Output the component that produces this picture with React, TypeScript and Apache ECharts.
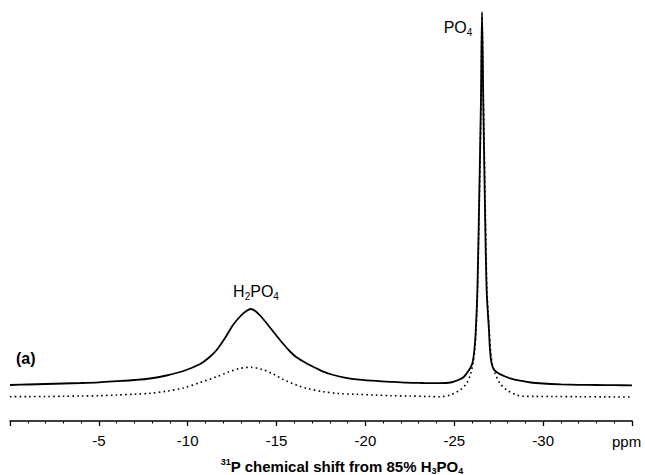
import React, { useEffect, useRef } from "react";
import * as echarts from "echarts";

// x axis tick values (ppm), 0 on the left, -35 on the right
const xTicks = [0, -5, -10, -15, -20, -25, -30, -35];
const unitLabel = "ppm";

// solid trace (a): chemical shift (ppm) and intensity (arbitrary units)
const solidPpm = [
  0, -1, -2, -3, -4, -5, -6, -7, -7.88, -8.8, -9.76, -10.7, -11.2, -11.63, -12.1, -12.57,
  -13.0, -13.3, -13.55, -13.8, -14.1, -14.45, -14.9, -15.38, -15.76, -16.1, -16.7, -17.26,
  -17.63, -18.2, -18.76, -19.5, -20.44, -21.4, -22.32, -23.2, -24.2, -24.8, -25.23, -25.5,
  -25.7, -25.9, -26.02, -26.13, -26.21, -26.3, -26.4, -26.5, -26.56, -26.63, -26.72, -26.82,
  -26.95, -27.01, -27.1, -27.25, -27.48, -27.8, -28.14, -28.7, -29.3, -30, -31, -32, -33,
  -34, -35,
];
const solidInt = [
  36, 36.5, 37, 37.5, 38, 38.7, 39.8, 41, 42.5, 45.5, 50, 57, 63.5, 71, 83, 96.5,
  105.5, 110, 112, 110, 105, 97.5, 87.5, 77, 69.5, 64, 57.5, 52.5,
  49.3, 46, 43.7, 41.7, 40.3, 39.2, 38.3, 38, 37.8, 38.5, 41, 43.5,
  47.7, 53, 57.7, 71, 91, 131, 220, 321, 409, 321, 220, 131,
  91, 71, 57.7, 51, 47.7, 45, 42.7, 40.3, 38.5, 37.5, 36.7, 36.2, 36,
  35.8, 35.7,
];

// dotted trace
const dottedPpm = [
  0, -1, -2, -3, -4, -5.06, -6, -7, -7.88, -8.8, -9.76, -10.7, -11.63, -12.3, -12.9, -13.55,
  -14.2, -14.8, -15.38, -15.76, -16.2, -16.7, -17.63, -18.5, -19.5, -20.5, -21.4, -22.5,
  -23.5, -24.2, -24.76, -25.32, -25.7, -25.93, -26.05, -26.15, -26.23, -26.31, -26.41, -26.51,
  -26.56, -26.64, -26.74, -26.84, -26.97, -27.04, -27.13, -27.29, -27.57, -27.95, -28.51,
  -28.9, -29.5, -30.5, -32, -33.5, -35,
];
const dottedInt = [
  24.3, 24.4, 24.5, 24.7, 25, 25.3, 26, 26.8, 27.7, 29.8, 33, 38.5, 44.3, 49, 52.5, 53.7,
  51.5, 47, 41.5, 38.5, 35.5, 32.7, 29.3, 27.5, 26.7, 26, 25.3, 25,
  24.5, 24.3, 26, 31, 37.7, 47.7, 57.7, 71, 91, 131, 220, 321,
  405, 321, 220, 131, 91, 71, 57.7, 47.7, 37.7, 31, 26,
  24.8, 24.6, 24.5, 24.3, 24.1, 24,
];

const FONT = "'Liberation Sans', Arial, Helvetica, sans-serif";

export default function App() {
  const ref = useRef<HTMLDivElement>(null);

  useEffect(() => {
    if (!ref.current) return;
    const chart = echarts.init(ref.current, null, { renderer: "svg" });
    const solid = solidPpm.map((x, i) => [x, solidInt[i]]);
    const dotted = dottedPpm.map((x, i) => [x, dottedInt[i]]);

    chart.setOption({
      animation: false,
      backgroundColor: "#ffffff",
      grid: { left: 10, right: 13, top: 10, bottom: 54 },
      xAxis: {
        type: "value",
        inverse: true,
        min: xTicks[xTicks.length - 1],
        max: xTicks[0],
        interval: 5,
        splitLine: { show: false },
        axisLine: { show: true, onZero: false, lineStyle: { color: "#000", width: 1.6 } },
        axisTick: { show: true, length: 5, lineStyle: { color: "#000", width: 1.3 } },
        minorTick: { show: true, splitNumber: 5, length: 2.5, lineStyle: { color: "#000", width: 1 } },
        axisLabel: {
          color: "#000",
          fontSize: 15,
          fontFamily: FONT,
          margin: 12,
          formatter: (v: number) => (v === xTicks[0] || v === xTicks[xTicks.length - 1] ? "" : String(v)),
        },
      },
      yAxis: { type: "value", min: 0, max: 411, show: false },
      series: [
        {
          type: "line",
          data: dotted,
          showSymbol: false,
          smooth: 0.3,
          lineStyle: { color: "#000", width: 1.6, type: [1.6, 3.2] },
          z: 2,
        },
        {
          type: "line",
          data: solid,
          showSymbol: false,
          smooth: 0.3,
          lineStyle: { color: "#000", width: 1.8 },
          z: 3,
        },
      ],
      graphic: [
        {
          type: "text",
          x: 612,
          y: 441,
          style: { text: unitLabel, fontSize: 15, fontFamily: FONT, fill: "#000", verticalAlign: "middle", align: "left" },
        },
        {
          type: "text",
          x: 16,
          y: 358,
          style: { text: "(a)", fontSize: 16, fontWeight: "bold", fontFamily: FONT, fill: "#000", verticalAlign: "middle" },
        },
        {
          type: "text",
          x: 458,
          y: 27,
          style: {
            text: "{m|PO}{s|4}",
            align: "center",
            verticalAlign: "middle",
            fill: "#000",
            rich: {
              m: { fontSize: 16, fontFamily: FONT, lineHeight: 20, fill: "#000" },
              s: { fontSize: 10, fontFamily: FONT, lineHeight: 10, verticalAlign: "bottom", fill: "#000" },
            },
          },
        },
        {
          type: "text",
          x: 256,
          y: 291,
          style: {
            text: "{m|H}{s|2}{m|PO}{s|4}",
            align: "center",
            verticalAlign: "middle",
            fill: "#000",
            rich: {
              m: { fontSize: 16, fontFamily: FONT, lineHeight: 20, fill: "#000" },
              s: { fontSize: 10, fontFamily: FONT, lineHeight: 10, verticalAlign: "bottom", fill: "#000" },
            },
          },
        },
        {
          type: "text",
          x: 342,
          y: 466,
          style: {
            text: "{u|31}{b|P chemical shift from 85% H}{s|3}{b|PO}{s|4}",
            align: "center",
            verticalAlign: "middle",
            fill: "#000",
            rich: {
              b: { fontSize: 15, fontWeight: "bold", fontFamily: FONT, lineHeight: 18, fill: "#000" },
              u: { fontSize: 9, fontWeight: "bold", fontFamily: FONT, lineHeight: 9, verticalAlign: "top", fill: "#000" },
              s: { fontSize: 9, fontWeight: "bold", fontFamily: FONT, lineHeight: 9, verticalAlign: "bottom", fill: "#000" },
            },
          },
        },
      ],
    });

    return () => chart.dispose();
  }, []);

  return (
    <div
      ref={ref}
      style={{ position: "fixed", left: 0, top: 0, width: 645, height: 475, background: "#fff" }}
    />
  );
}
